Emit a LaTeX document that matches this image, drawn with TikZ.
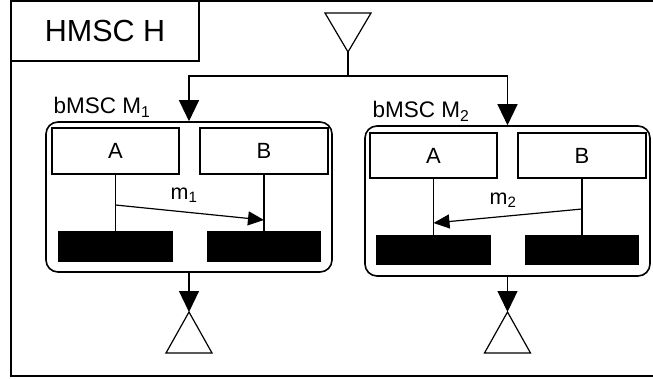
\documentclass[tikz,border=0pt]{standalone}
\usepackage{fontspec}
\setmainfont{Liberation Sans}
\usetikzlibrary{arrows.meta}
\begin{document}
\begin{tikzpicture}[x=1pt,y=-1pt,
  thinline/.style={line width=1.2pt},
  lbox/.style={draw,line width=1.2pt,rectangle,inner sep=0pt,font=\fontsize{22}{25}\selectfont},
  bar/.style={fill=black,draw=none,rectangle,inner sep=0pt},
  mscbox/.style={draw,line width=1.6pt,rounded corners=12pt,rectangle,inner sep=0pt,minimum width=286pt,minimum height=150pt},
  bigarrow/.style={line width=1.2pt,-{Triangle[width=20pt,length=21pt]}},
  msgarrow/.style={line width=1.2pt,-{Triangle[width=14pt,length=16pt]}},
  lbl/.style={font=\fontsize{22.5}{26}\selectfont,inner sep=0pt},
  mlbl/.style={font=\fontsize{21.5}{24}\selectfont,inner sep=0pt}]
\useasboundingbox (0,0) rectangle (653,378);
\fill[white] (0,0) rectangle (653,378);
% outer frame
\draw[line width=2.2pt] (11,1) -- (11,376) -- (670,376) (11,1) -- (670,1);
\node[draw,line width=1.5pt,rectangle,inner sep=0pt,minimum width=188pt,minimum height=60pt,
  font=\fontsize{30.5}{34}\selectfont] (title) at (105,31) {HMSC H};
% start symbol
\draw[thinline] (325,13) -- (371,13) -- (348,52) -- cycle;
\coordinate (s) at (348,52);
\coordinate (j) at (348,76);
% bMSC boxes
\node[mscbox] (M1) at (189,197) {};
\node[mscbox,minimum width=285pt] (M2) at (507.5,201) {};
\node[lbl] (L1) at (102,107) {bMSC M\textsubscript{1}};
\node[lbl] (L2) at (421,111) {bMSC M\textsubscript{2}};
% connectors from start
\draw[thinline] (s) -- (j);
\draw[bigarrow] (j) -| (M1.north);
\draw[bigarrow] (j) -| (M2.north);
% M1 content
\node[lbox,minimum width=127pt,minimum height=46pt] (A1) at (115.5,151) {A};
\node[lbox,minimum width=128pt,minimum height=46pt] (B1) at (264,151) {B};
\node[bar,minimum width=115pt,minimum height=31pt] (EA1) at (115.5,246.5) {};
\node[bar,minimum width=114pt,minimum height=31pt] (EB1) at (264,246.5) {};
\draw[thinline] (A1.south) -- (A1.south |- EA1.north);
\draw[thinline] (B1.south) -- (B1.south |- EB1.north);
\coordinate (m1s) at (115.5,205);
\coordinate (m1e) at (264,220);
\draw[msgarrow] (m1s) -- (m1e);
\node[mlbl] (m1l) at (184,195) {m\textsubscript{1}};
% M2 content
\node[lbox,minimum width=127pt,minimum height=45pt] (A2) at (433.5,155.5) {A};
\node[lbox,minimum width=128pt,minimum height=45pt] (B2) at (582,155.5) {B};
\node[bar,minimum width=115pt,minimum height=30pt] (EA2) at (433.5,250) {};
\node[bar,minimum width=114pt,minimum height=30pt] (EB2) at (582,250) {};
\draw[thinline] (A2.south) -- (A2.south |- EA2.north);
\draw[thinline] (B2.south) -- (B2.south |- EB2.north);
\coordinate (m2s) at (582,209);
\coordinate (m2e) at (433.5,223);
\draw[msgarrow] (m2s) -- (m2e);
\node[mlbl] (m2l) at (503,200) {m\textsubscript{2}};
% end symbols
\coordinate (e1) at (189,312);
\coordinate (e2) at (507.5,312);
\draw[bigarrow] (M1.south) -- (e1);
\draw[bigarrow] (M2.south) -- (e2);
\draw[thinline] (e1) -- (212,353) -- (166,353) -- cycle;
\draw[thinline] (e2) -- (530.5,353) -- (484.5,353) -- cycle;
\end{tikzpicture}
\end{document}
